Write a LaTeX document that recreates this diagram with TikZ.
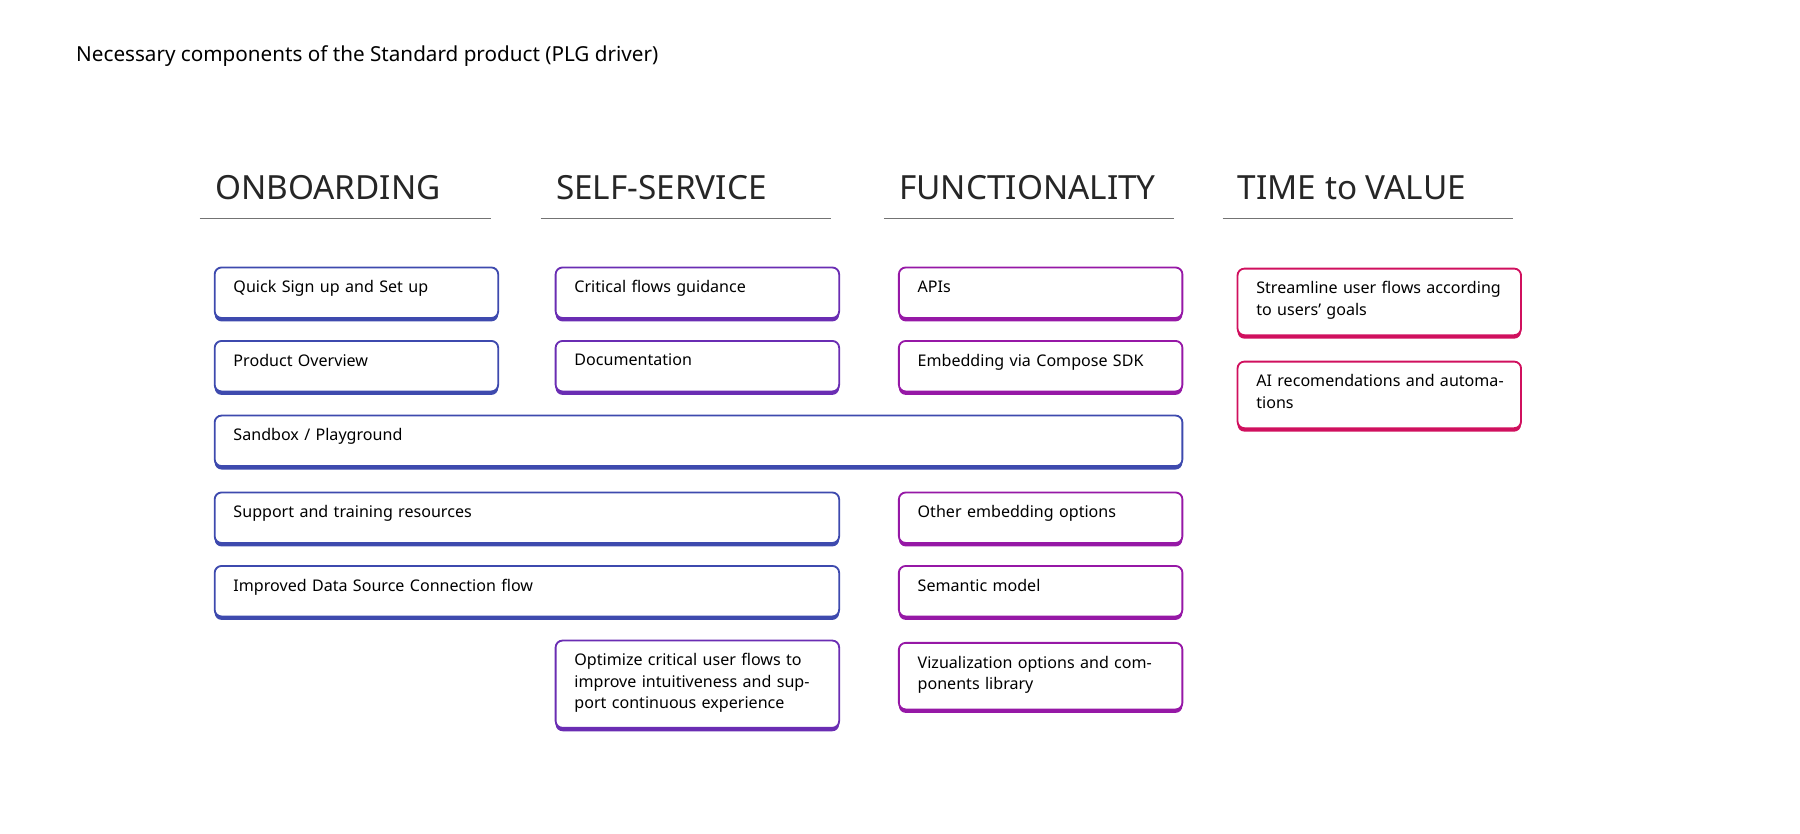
\documentclass[tikz,border=0pt]{standalone}
\usepackage{fontspec}
\setmainfont{Noto Sans}
\definecolor{cOn}{HTML}{3E4AAE}
\definecolor{cSe}{HTML}{6A2DB3}
\definecolor{cFu}{HTML}{9618A6}
\definecolor{cTi}{HTML}{D0105E}
\begin{document}
\begin{tikzpicture}[x=0.5pt,y=-0.5pt,
  txt/.style={anchor=north west,inner sep=0pt,font=\fontsize{7}{9.3}\selectfont,align=left},
  head/.style={anchor=base west,inner sep=0pt,font=\fontsize{14.5}{16}\selectfont,text=black!85},
  uline/.style={draw=black!55,line width=0.5pt}]
\useasboundingbox (0,0) rectangle (1568,726);
\newcommand{\cardbox}[7]{% name, color, x1,y1,x2,y2, text
  \fill[#2,rounded corners=3pt] (#3,#4+4) rectangle (#5,#6);
  \filldraw[draw=#2,fill=white,line width=0.8pt,rounded corners=3pt] (#3,#4) rectangle (#5,#6-3);
  \node[txt,text width=(#5-#3-30)*0.5pt] (#1) at (#3+16,#4+11) {#7};
}
\node[anchor=base west,inner sep=0pt,font=\fontsize{9}{11}\selectfont] (title) at (66,54) {Necessary components of the Standard product (PLG driver)};
\node[head] (h1) at (187,174) {ONBOARDING};
\node[head] (h2) at (484,174) {SELF-SERVICE};
\node[head] (h3) at (783,174) {FUNCTIONALITY};
\node[head] (h4) at (1078,174) {TIME to VALUE};
\draw[uline] (174,190) -- (428,190);
\draw[uline] (471,190) -- (724,190);
\draw[uline] (770,190) -- (1023,190);
\draw[uline] (1065,190) -- (1318,190);
\cardbox{b1}{cOn}{187}{233}{434}{280}{Quick Sign up and Set up}
\cardbox{b2}{cOn}{187}{297}{434}{344}{Product Overview}
\cardbox{b3}{cOn}{187}{362}{1030}{409}{Sandbox / Playground}
\cardbox{b4}{cOn}{187}{429}{731}{476}{Support and training resources}
\cardbox{b5}{cOn}{187}{493}{731}{540}{Improved Data Source Connection flow}
\cardbox{s1}{cSe}{484}{233}{731}{280}{Critical flows guidance}
\cardbox{s2}{cSe}{484}{297}{731}{344}{Documentation}
\cardbox{s3}{cSe}{484}{558}{731}{637}{Optimize critical user flows to improve intuitiveness and support continuous experience}
\cardbox{f1}{cFu}{783}{233}{1030}{280}{APIs}
\cardbox{f2}{cFu}{783}{297}{1030}{344}{Embedding via Compose SDK}
\cardbox{f3}{cFu}{783}{429}{1030}{476}{Other embedding options}
\cardbox{f4}{cFu}{783}{493}{1030}{540}{Semantic model}
\cardbox{f5}{cFu}{783}{560}{1030}{621}{Vizualization options and components library}
\cardbox{t1}{cTi}{1078}{234}{1325}{295}{Streamline user flows according to users' goals}
\cardbox{t2}{cTi}{1078}{315}{1325}{376}{AI recomendations and automations}
\end{tikzpicture}
\end{document}
